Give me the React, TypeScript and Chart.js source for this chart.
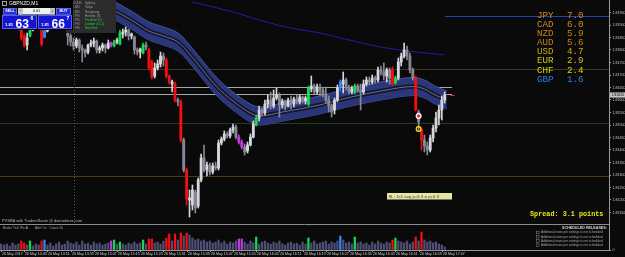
import React, { useEffect, useRef } from "react";
import { Chart, registerables } from "chart.js";

Chart.register(...registerables);

// ---------- data ----------
const SYMBOL = "GBPNZD";
const TIMEFRAME = "M1";
const LOT = "0.01";
const BID = 1.81636;
const ASK = 1.81667;
const SPREAD_POINTS = 3.1;

const TIME_LABELS = [
  "26 May 2017", "26 May 14:43", "26 May 14:51", "26 May 14:59", "26 May 15:07",
  "26 May 15:15", "26 May 15:23", "26 May 15:31", "26 May 15:39", "26 May 15:47",
  "26 May 15:55", "26 May 16:03", "26 May 16:11", "26 May 16:19", "26 May 16:27",
  "26 May 16:35", "26 May 16:43", "26 May 16:51", "26 May 16:59", "26 May 17:07",
];
const BARS_PER_LABEL = 8;

const OPEN = [
  1.81920, 1.81928, 1.81912, 1.81920, 1.81904, 1.81912, 1.81900, 1.81888, 1.81856, 1.81820,
  1.81856, 1.81880, 1.81896, 1.81912, 1.81888, 1.81852, 1.81876, 1.81896, 1.81912, 1.81928,
  1.81920, 1.81936, 1.81924, 1.81896, 1.81856, 1.81832, 1.81816, 1.81840, 1.81808, 1.81800,
  1.81792, 1.81820, 1.81828, 1.81836, 1.81800, 1.81808, 1.81820, 1.81808, 1.81828, 1.81816,
  1.81832, 1.81824, 1.81864, 1.81872, 1.81880, 1.81856, 1.81852, 1.81800, 1.81792, 1.81788,
  1.81820, 1.81800, 1.81752, 1.81696, 1.81728, 1.81744, 1.81776, 1.81760, 1.81696, 1.81664,
  1.81664, 1.81600, 1.81592, 1.81440, 1.81320, 1.81200, 1.81180, 1.81232, 1.81176, 1.81280,
  1.81368, 1.81320, 1.81340, 1.81312, 1.81336, 1.81328, 1.81428, 1.81444, 1.81464, 1.81456,
  1.81480, 1.81492, 1.81452, 1.81432, 1.81412, 1.81396, 1.81420, 1.81452, 1.81500, 1.81528,
  1.81560, 1.81548, 1.81584, 1.81600, 1.81576, 1.81608, 1.81620, 1.81580, 1.81596, 1.81576,
  1.81600, 1.81584, 1.81604, 1.81592, 1.81612, 1.81596, 1.81584, 1.81644, 1.81656, 1.81632,
  1.81652, 1.81640, 1.81624, 1.81600, 1.81576, 1.81560, 1.81600, 1.81648, 1.81664, 1.81680,
  1.81648, 1.81632, 1.81632, 1.81656, 1.81640, 1.81632, 1.81664, 1.81680, 1.81672, 1.81688,
  1.81680, 1.81720, 1.81712, 1.81696, 1.81720, 1.81720, 1.81668, 1.81688, 1.81752, 1.81776,
  1.81800, 1.81776, 1.81720, 1.81688, 1.81552, 1.81480, 1.81440, 1.81416, 1.81400, 1.81448,
  1.81488, 1.81528, 1.81560, 1.81600,
];
const HIGH = [
  1.81940, 1.81936, 1.81928, 1.81928, 1.81924, 1.81920, 1.81912, 1.81896, 1.81864, 1.81868,
  1.81892, 1.81904, 1.81920, 1.81928, 1.81896, 1.81888, 1.81904, 1.81920, 1.81936, 1.81940,
  1.81944, 1.81944, 1.81928, 1.81904, 1.81864, 1.81848, 1.81848, 1.81844, 1.81820, 1.81804,
  1.81824, 1.81840, 1.81848, 1.81840, 1.81816, 1.81828, 1.81824, 1.81840, 1.81832, 1.81840,
  1.81848, 1.81880, 1.81884, 1.81892, 1.81884, 1.81868, 1.81856, 1.81808, 1.81808, 1.81828,
  1.81832, 1.81808, 1.81760, 1.81748, 1.81760, 1.81792, 1.81788, 1.81768, 1.81700, 1.81680,
  1.81672, 1.81608, 1.81600, 1.81448, 1.81328, 1.81240, 1.81260, 1.81240, 1.81288, 1.81384,
  1.81420, 1.81352, 1.81348, 1.81348, 1.81352, 1.81440, 1.81452, 1.81476, 1.81472, 1.81488,
  1.81504, 1.81500, 1.81460, 1.81440, 1.81424, 1.81432, 1.81464, 1.81516, 1.81540, 1.81576,
  1.81568, 1.81600, 1.81620, 1.81632, 1.81640, 1.81648, 1.81628, 1.81604, 1.81600, 1.81608,
  1.81616, 1.81612, 1.81620, 1.81620, 1.81616, 1.81616, 1.81656, 1.81696, 1.81664, 1.81664,
  1.81664, 1.81652, 1.81652, 1.81616, 1.81584, 1.81608, 1.81660, 1.81680, 1.81712, 1.81688,
  1.81660, 1.81656, 1.81664, 1.81664, 1.81664, 1.81680, 1.81692, 1.81692, 1.81700, 1.81696,
  1.81732, 1.81736, 1.81748, 1.81728, 1.81728, 1.81732, 1.81696, 1.81768, 1.81788, 1.81828,
  1.81816, 1.81788, 1.81728, 1.81696, 1.81560, 1.81488, 1.81460, 1.81432, 1.81460, 1.81500,
  1.81552, 1.81580, 1.81616, 1.81632,
];
const LOW = [
  1.81912, 1.81904, 1.81900, 1.81896, 1.81896, 1.81892, 1.81880, 1.81840, 1.81812, 1.81800,
  1.81852, 1.81876, 1.81888, 1.81888, 1.81816, 1.81848, 1.81872, 1.81888, 1.81904, 1.81912,
  1.81912, 1.81912, 1.81896, 1.81820, 1.81816, 1.81800, 1.81808, 1.81792, 1.81752, 1.81772,
  1.81784, 1.81812, 1.81812, 1.81788, 1.81788, 1.81796, 1.81788, 1.81804, 1.81812, 1.81812,
  1.81824, 1.81820, 1.81848, 1.81856, 1.81840, 1.81844, 1.81784, 1.81780, 1.81768, 1.81784,
  1.81800, 1.81720, 1.81684, 1.81688, 1.81720, 1.81732, 1.81736, 1.81688, 1.81664, 1.81632,
  1.81592, 1.81576, 1.81432, 1.81312, 1.81180, 1.81132, 1.81160, 1.81148, 1.81168, 1.81272,
  1.81312, 1.81296, 1.81300, 1.81304, 1.81320, 1.81320, 1.81420, 1.81436, 1.81448, 1.81448,
  1.81468, 1.81444, 1.81424, 1.81404, 1.81380, 1.81388, 1.81416, 1.81448, 1.81496, 1.81516,
  1.81536, 1.81540, 1.81568, 1.81564, 1.81568, 1.81600, 1.81532, 1.81568, 1.81560, 1.81572,
  1.81564, 1.81572, 1.81584, 1.81584, 1.81588, 1.81584, 1.81576, 1.81632, 1.81624, 1.81624,
  1.81616, 1.81612, 1.81588, 1.81552, 1.81532, 1.81544, 1.81592, 1.81640, 1.81628, 1.81640,
  1.81624, 1.81624, 1.81624, 1.81632, 1.81560, 1.81624, 1.81656, 1.81660, 1.81664, 1.81668,
  1.81672, 1.81700, 1.81680, 1.81672, 1.81664, 1.81660, 1.81664, 1.81680, 1.81736, 1.81768,
  1.81760, 1.81708, 1.81680, 1.81556, 1.81480, 1.81400, 1.81392, 1.81380, 1.81392, 1.81432,
  1.81472, 1.81500, 1.81520, 1.81588,
];
const CLOSE = [
  1.81928, 1.81912, 1.81920, 1.81904, 1.81912, 1.81900, 1.81888, 1.81848, 1.81820, 1.81848,
  1.81880, 1.81896, 1.81912, 1.81896, 1.81824, 1.81876, 1.81896, 1.81912, 1.81928, 1.81920,
  1.81936, 1.81924, 1.81904, 1.81856, 1.81832, 1.81816, 1.81840, 1.81808, 1.81800, 1.81788,
  1.81820, 1.81828, 1.81836, 1.81800, 1.81808, 1.81820, 1.81808, 1.81828, 1.81820, 1.81832,
  1.81840, 1.81868, 1.81872, 1.81880, 1.81856, 1.81864, 1.81800, 1.81792, 1.81804, 1.81820,
  1.81812, 1.81728, 1.81692, 1.81728, 1.81744, 1.81776, 1.81760, 1.81696, 1.81672, 1.81672,
  1.81600, 1.81592, 1.81440, 1.81320, 1.81204, 1.81208, 1.81240, 1.81168, 1.81280, 1.81368,
  1.81320, 1.81340, 1.81312, 1.81336, 1.81328, 1.81428, 1.81444, 1.81464, 1.81456, 1.81480,
  1.81492, 1.81452, 1.81432, 1.81412, 1.81392, 1.81420, 1.81452, 1.81504, 1.81528, 1.81560,
  1.81548, 1.81584, 1.81600, 1.81576, 1.81608, 1.81620, 1.81580, 1.81596, 1.81576, 1.81600,
  1.81584, 1.81604, 1.81592, 1.81612, 1.81596, 1.81608, 1.81648, 1.81656, 1.81632, 1.81652,
  1.81640, 1.81624, 1.81600, 1.81576, 1.81552, 1.81600, 1.81648, 1.81672, 1.81680, 1.81648,
  1.81632, 1.81644, 1.81656, 1.81640, 1.81632, 1.81664, 1.81680, 1.81672, 1.81688, 1.81680,
  1.81720, 1.81712, 1.81696, 1.81720, 1.81688, 1.81664, 1.81688, 1.81752, 1.81776, 1.81800,
  1.81776, 1.81720, 1.81688, 1.81560, 1.81512, 1.81440, 1.81416, 1.81400, 1.81448, 1.81488,
  1.81528, 1.81560, 1.81600, 1.81620,
];
const VOLUME = [
  60, 50, 60, 40, 70, 50, 60, 90, 70, 50,
  90, 40, 60, 50, 90, 100, 50, 70, 40, 60,
  80, 50, 60, 90, 70, 60, 80, 50, 90, 60,
  70, 50, 80, 60, 70, 50, 60, 70, 90, 100,
  60, 80, 60, 50, 70, 60, 80, 60, 70, 100,
  60, 110, 110, 70, 80, 60, 90, 120, 160, 90,
  160, 100, 170, 140, 170, 150, 120, 100, 110, 90,
  100, 80, 90, 70, 80, 100, 70, 90, 60, 80,
  70, 90, 110, 110, 80, 60, 90, 70, 130, 60,
  80, 90, 70, 60, 80, 70, 90, 60, 50, 70,
  80, 60, 70, 50, 80, 60, 120, 70, 90, 60,
  70, 80, 90, 60, 80, 70, 90, 140, 100, 70,
  80, 60, 130, 70, 80, 60, 70, 50, 80, 60,
  90, 70, 60, 80, 70, 100, 120, 90, 80, 70,
  90, 60, 80, 130, 90, 180, 100, 80, 90, 70,
  80, 60, 50, 30,
];
// PVSRA bar classes (bar indexes)
const CLIMAX_RED = [7, 8, 14, 51, 52, 57, 58, 60, 62, 64, 135, 143, 145];
const CLIMAX_GREEN = [10, 39, 41, 49, 88, 106, 122, 136];
const RISING_BLUE = [15, 117];
const RISING_MAGENTA = [38, 82, 83];

// moving-average band (bar index, price)
const BAND_X = [33, 40, 46, 51, 56, 61, 65, 69, 74.5, 80, 86, 89.5, 97, 109, 120, 132, 142, 146, 149, 153.7];
const BAND_UPPER = [1.82028, 1.81988, 1.81948, 1.81912, 1.81892, 1.81868, 1.81820, 1.81764, 1.81688, 1.81632,
  1.81584, 1.81572, 1.81588, 1.81614, 1.81646, 1.81674, 1.81690, 1.81680, 1.81660, 1.81636];
const BAND_MID = [1.81992, 1.81952, 1.81912, 1.81876, 1.81856, 1.81832, 1.81784, 1.81728, 1.81652, 1.81596,
  1.81548, 1.81536, 1.81552, 1.81578, 1.81610, 1.81638, 1.81654, 1.81644, 1.81624, 1.81600];
const BAND_LOWER = [1.81956, 1.81916, 1.81876, 1.81840, 1.81820, 1.81796, 1.81748, 1.81692, 1.81616, 1.81560,
  1.81512, 1.81500, 1.81516, 1.81542, 1.81574, 1.81602, 1.81618, 1.81608, 1.81588, 1.81564];

// slow MA (bar index, price)
const MA_X = [66, 80, 89, 100, 110, 120, 131, 143, 153];
const MA_VALUES = [1.81992, 1.81952, 1.81920, 1.81888, 1.81868, 1.81840, 1.81812, 1.81792, 1.81780];

// horizontal levels
const LEVEL_PRICES = [1.81724, 1.81652, 1.81624, 1.81508, 1.81296];
const LEVEL_END_INDEX = [null, 155.5, 155.5, null, null];
const DAY_HIGH = 1.81936;
const DAY_HIGH_FROM_INDEX = 153;
const SEPARATOR_INDEX = 25;

// signal markers on bar 144
const SIGNAL_INDEX = 144;
const SIGNAL_PRICES = [1.81536, 1.81484];

const PRICE_MIN = 1.81104;
const PRICE_MAX = 1.82;
const PRICE_TICKS = [1.8195, 1.819, 1.8185, 1.818, 1.8175, 1.817, 1.8165, 1.816, 1.8155, 1.815,
  1.8145, 1.814, 1.8135, 1.813, 1.8125, 1.812, 1.8115];
const VOLUME_MAX = 260;
const X_MIN = -0.35;
const X_MAX = 209.65;

const CURRENCIES = ["JPY", "CAD", "NZD", "AUD", "USD", "EUR", "CHF", "GBP"];
const STRENGTH = [7.0, 6.0, 5.9, 5.6, 4.7, 2.9, 2.4, 1.6];

const SESSION_TIMES = ["12:00 AM", "2:00 AM", "3:00 AM", "4:00 PM", "7:00 PM", "8:00 PM", "1:00 PM"];
const SESSION_NAMES = ["Sydney", "Tokyo", "Hongkong", "Helsinki (3)", "Frankfurt (L)", "London (O+1)", "NewYork"];
const SESSION_OPEN = [false, false, false, false, true, true, true];

const SL_TEXT = "SL: 1x1 avg p+6.3 = p+6.3";
const PVSRA_TEXT = "PVSRA with TradersRoom @ donnaforex.com";
const VOL_HEADER = ["Broker Tick: Pls At", "Alert On", "Count: 20"];
const NEWS_TITLE = "SCHEDULED RELEASES:";
const NEWS_LINES = [
  "Additional news per settings is not scheduled",
  "Additional news per settings is not scheduled",
  "Additional news per settings is not scheduled",
  "Additional news per settings is not scheduled",
];

// ---------- styles ----------
const BG = "#0a0a0a";
const CUR_COLORS = ["#d58a1e", "#d58a1e", "#c98018", "#c98018", "#c2ae14", "#c8c818", "#dcdc00", "#2f7fe0"];
const LEVEL_COLORS = ["#3a3822", "#a8a8a8", "#a8a8a8", "#1f3d1f", "#4c3b16"];
const SANS = '"Liberation Sans", Arial, sans-serif';
const MONO = '"Liberation Mono", "DejaVu Sans Mono", monospace';

function txt(c: any, s: string, x: number, y: number, font: string, color: string, align = "left", base = "middle") {
  c.font = font;
  c.fillStyle = color;
  c.textAlign = align;
  c.textBaseline = base;
  c.fillText(s, x, y);
}

function candleColor(i: number) {
  if (CLIMAX_RED.includes(i)) return "#f01010";
  if (CLIMAX_GREEN.includes(i)) return "#18d850";
  if (RISING_BLUE.includes(i)) return "#2a8cff";
  if (RISING_MAGENTA.includes(i)) return "#c43ce0";
  return CLOSE[i] >= OPEN[i] ? "#d6d6de" : "#888894";
}
function volumeColor(i: number) {
  if (CLIMAX_RED.includes(i)) return "#f01010";
  if (CLIMAX_GREEN.includes(i)) return "#18d850";
  if (RISING_BLUE.includes(i)) return "#2a8cff";
  if (RISING_MAGENTA.includes(i)) return "#c43ce0";
  return "#4e4e76";
}

const overlayPlugin = {
  id: "mt4Overlay",
  beforeDraw(chart: any) {
    const c = chart.ctx;
    c.save();
    c.fillStyle = BG;
    c.fillRect(0, 0, chart.width, chart.height);
    c.restore();
  },
  beforeDatasetsDraw(chart: any) {
    const c = chart.ctx;
    const xs = chart.scales.x, ys = chart.scales.y, vs = chart.scales.v;
    const a = chart.chartArea;
    c.save();
    c.lineWidth = 1;
    LEVEL_PRICES.forEach((p, k) => {
      const py = Math.round(ys.getPixelForValue(p)) + 0.5;
      const xe = LEVEL_END_INDEX[k] === null ? a.right : xs.getPixelForValue(LEVEL_END_INDEX[k] as number);
      c.strokeStyle = LEVEL_COLORS[k];
      c.beginPath(); c.moveTo(a.left, py); c.lineTo(xe, py); c.stroke();
    });
    // period separator
    const sx = Math.round(xs.getPixelForValue(SEPARATOR_INDEX)) + 0.5;
    c.strokeStyle = "#5a5a5a";
    c.setLineDash([1, 2]);
    c.beginPath(); c.moveTo(sx, ys.top); c.lineTo(sx, ys.bottom); c.stroke();
    c.setLineDash([]);
    // day high line
    const hy = Math.round(ys.getPixelForValue(DAY_HIGH)) + 0.5;
    c.strokeStyle = "#2740b0";
    c.beginPath(); c.moveTo(xs.getPixelForValue(DAY_HIGH_FROM_INDEX), hy); c.lineTo(a.right, hy); c.stroke();
    // pane separator and bottom border
    c.strokeStyle = "#8c8c8c";
    const sy = Math.round(vs.top) + 0.5;
    c.beginPath(); c.moveTo(0, sy); c.lineTo(a.right, sy); c.stroke();
    const by = Math.round(vs.bottom) + 0.5;
    c.strokeStyle = "#9a9a9a";
    c.beginPath(); c.moveTo(0, by); c.lineTo(a.right, by); c.stroke();
    c.restore();
  },
  afterDatasetsDraw(chart: any) {
    const c = chart.ctx;
    const xs = chart.scales.x, ys = chart.scales.y, vs = chart.scales.v;
    const a = chart.chartArea;
    c.save();

    // current price tag on axis + bid dash
    const last = CLOSE[CLOSE.length - 1];
    const py = ys.getPixelForValue(last);
    c.fillStyle = "#c6c6c6";
    c.fillRect(a.right + 1, py - 2.6, 15, 5.2);
    txt(c, last.toFixed(5), a.right + 2.2, py + 0.2, `3.6px ${SANS}`, "#000000");
    c.strokeStyle = "#ff2020";
    c.lineWidth = 1;
    c.beginPath();
    c.moveTo(xs.getPixelForValue(CLOSE.length + 1), Math.round(py) + 0.5);
    c.lineTo(xs.getPixelForValue(CLOSE.length + 2.5), Math.round(py) + 0.5);
    c.stroke();

    // time labels
    c.strokeStyle = "#a0a0a0";
    TIME_LABELS.forEach((s, k) => {
      const px = Math.round(xs.getPixelForValue(k * BARS_PER_LABEL)) + 0.5;
      c.beginPath(); c.moveTo(px, vs.bottom); c.lineTo(px, vs.bottom + 2); c.stroke();
      txt(c, s, px + 0.5, vs.bottom + 4, `3.6px ${SANS}`, "#cfcfcf");
    });

    // session panel
    c.fillStyle = "#2b2b2b";
    c.fillRect(66, 0, 50, 33);
    SESSION_NAMES.forEach((n, k) => {
      const y = 3.5 + k * 4.1;
      txt(c, SESSION_TIMES[k], 68, y, `3.1px ${SANS}`, "#8a8a8a");
      txt(c, n, 85, y, `3.1px ${SANS}`, SESSION_OPEN[k] ? "#2ecc40" : "#9c9c9c");
    });

    // one-click trading panel
    c.fillStyle = "#000000";
    c.fillRect(0, 0, 73, 30);
    c.strokeStyle = "#d0d0d0"; c.lineWidth = 0.8;
    c.strokeRect(2.5, 1.5, 4, 4);
    txt(c, `${SYMBOL},${TIMEFRAME}`, 9, 4, `5px ${SANS}`, "#ffffff");
    const btn = (x: number, w: number, label: string) => {
      c.fillStyle = "#1e2ad8"; c.fillRect(x, 8, w, 6.5);
      c.strokeStyle = "#8090ff"; c.lineWidth = 0.6; c.strokeRect(x + 0.3, 8.3, w - 0.6, 5.9);
      txt(c, label, x + w / 2, 11.4, `bold 3.8px ${SANS}`, "#ffffff", "center");
    };
    btn(3, 14, "SELL");
    btn(56, 15, "BUY");
    c.fillStyle = "#f0f0f0"; c.fillRect(18, 8, 37, 6.5);
    c.fillStyle = "#c4c4c4"; c.fillRect(18, 8, 5, 6.5); c.fillRect(50, 8, 5, 6.5);
    txt(c, "−", 20.5, 11.3, `4px ${SANS}`, "#333", "center");
    txt(c, "+", 52.5, 11.3, `4px ${SANS}`, "#333", "center");
    txt(c, LOT, 36.5, 11.4, `3.8px ${SANS}`, "#111", "center");
    const priceBox = (x: number, w: number, p: number) => {
      const s = p.toFixed(5);
      c.fillStyle = "#1414d4"; c.fillRect(x, 15, w, 14);
      c.strokeStyle = "#6c7cff"; c.lineWidth = 0.7; c.strokeRect(x + 0.4, 15.4, w - 0.8, 13.2);
      txt(c, s.slice(0, 4), x + 3, 25.5, `bold 4.2px ${SANS}`, "#ffffff", "left", "alphabetic");
      txt(c, s.slice(4, 6), x + 13.5, 27.5, `bold 12px ${SANS}`, "#ffffff", "left", "alphabetic");
      txt(c, s.slice(6), x + 28.5, 19.5, `bold 5px ${SANS}`, "#ffffff", "left", "alphabetic");
    };
    priceBox(2, 35, BID);
    priceBox(38, 34, ASK);

    // currency strength list
    CURRENCIES.forEach((cur, k) => {
      const y = 15.5 + k * 9.1;
      txt(c, cur, 537, y, `9.2px ${MONO}`, CUR_COLORS[k]);
      txt(c, STRENGTH[k].toFixed(1), 567, y, `9.2px ${MONO}`, CUR_COLORS[k]);
    });

    // spread
    txt(c, `Spread: ${SPREAD_POINTS.toFixed(1)} points`, 530, 214.5, `bold 6.8px ${MONO}`, "#eaea10");

    // SL label
    c.fillStyle = "#e6e6a0";
    c.fillRect(387, 193, 65, 6.5);
    txt(c, SL_TEXT, 388.5, 196.4, `4.3px ${SANS}`, "#3a3a3a");

    // PVSRA text
    txt(c, PVSRA_TEXT, 2, 220.5, `3.9px ${SANS}`, "#b8b8b8");

    // volume header
    txt(c, VOL_HEADER[0], 3, 228, `3.1px ${SANS}`, "#a8a8a8");
    txt(c, VOL_HEADER[1], 35, 228, `3.1px ${SANS}`, "#a8a8a8");
    txt(c, VOL_HEADER[2], 49.5, 228, `3.1px ${SANS}`, "#a8a8a8");

    // scheduled releases
    txt(c, NEWS_TITLE, 607, 228.3, `bold 3.7px ${SANS}`, "#d8d8d8", "right");
    NEWS_LINES.forEach((s, k) => {
      const y = 232.5 + k * 4.2;
      c.strokeStyle = "#8a8a8a"; c.lineWidth = 0.5;
      c.strokeRect(536.5, y - 1.3, 2.6, 2.6);
      txt(c, s, 541, y, `3.1px ${SANS}`, "#a4a4a4", "left");
    });

    c.restore();
  },
};

export default function App() {
  const ref = useRef<HTMLCanvasElement>(null);

  useEffect(() => {
    document.body.style.margin = "0";
    document.body.style.background = BG;
    const canvas = ref.current as HTMLCanvasElement;
    const idx = OPEN.map((_, i) => i);
    const colors = idx.map(candleColor);

    const lineBase = {
      type: "line", pointRadius: 0, pointHoverRadius: 0, tension: 0.4, yAxisID: "y", xAxisID: "x",
    };

    const chart = new Chart(canvas, {
      type: "bar",
      data: {
        datasets: [
          {
            ...lineBase,
            data: BAND_X.map((x, k) => ({ x, y: BAND_UPPER[k] })),
            borderColor: "#4453a0",
            borderWidth: 1,
            backgroundColor: "rgba(44,55,126,0.97)",
            fill: "+1",
            order: 20,
          } as any,
          {
            ...lineBase,
            data: BAND_X.map((x, k) => ({ x, y: BAND_LOWER[k] })),
            borderColor: "#4453a0",
            borderWidth: 1,
            fill: false,
            order: 20,
          } as any,
          {
            ...lineBase,
            data: BAND_X.map((x, k) => ({ x, y: BAND_MID[k] })),
            borderColor: "#15172c",
            borderWidth: 4.5,
            fill: false,
            order: 19,
          } as any,
          {
            ...lineBase,
            data: BAND_X.map((x, k) => ({ x, y: BAND_MID[k] })),
            borderColor: "#6a7096",
            borderWidth: 1,
            fill: false,
            order: 18,
          } as any,
          {
            ...lineBase,
            data: MA_X.map((x, k) => ({ x, y: MA_VALUES[k] })),
            borderColor: "#1f1fa8",
            borderWidth: 1,
            fill: false,
            order: 17,
          } as any,
          {
            type: "bar",
            data: idx.map((i) => ({ x: i, y: VOLUME[i] })),
            backgroundColor: idx.map(volumeColor),
            barThickness: 1.6,
            grouped: false,
            yAxisID: "v",
            order: 16,
          } as any,
          {
            type: "bar",
            data: idx.map((i) => ({ x: i, y: [LOW[i], HIGH[i]] })),
            backgroundColor: colors,
            barThickness: 1,
            grouped: false,
            yAxisID: "y",
            order: 3,
          } as any,
          {
            type: "bar",
            data: idx.map((i) => ({ x: i, y: [OPEN[i], CLOSE[i]] })),
            backgroundColor: colors,
            barThickness: 2.2,
            grouped: false,
            yAxisID: "y",
            order: 2,
          } as any,
          {
            type: "line",
            data: SIGNAL_PRICES.map((p) => ({ x: SIGNAL_INDEX, y: p })),
            showLine: false,
            pointRadius: 2.4,
            pointHoverRadius: 0,
            pointBorderWidth: 1.2,
            pointBorderColor: ["#ffffff", "#ffe600"],
            pointBackgroundColor: ["#ff3030", "rgba(0,0,0,0)"],
            yAxisID: "y",
            order: 0,
          } as any,
        ],
      },
      options: {
        animation: false,
        responsive: false,
        maintainAspectRatio: false,
        devicePixelRatio: 1,
        events: [],
        layout: { autoPadding: false, padding: { left: 0, right: 0, top: 0, bottom: 7 } },
        plugins: { legend: { display: false }, tooltip: { enabled: false } },
        scales: {
          x: { type: "linear", min: X_MIN, max: X_MAX, offset: false, display: false },
          y: {
            type: "linear",
            position: "right",
            stack: "panes",
            stackWeight: 224,
            min: PRICE_MIN,
            max: PRICE_MAX,
            afterBuildTicks: (s: any) => { s.ticks = PRICE_TICKS.map((v) => ({ value: v })); },
            afterFit: (s: any) => { s.width = 16; s.paddingTop = 0; s.paddingBottom = 0; },
            ticks: {
              autoSkip: false,
              color: "#c8c8c8",
              padding: 1.5,
              font: { size: 3.6, family: SANS },
              callback: (v: any) => Number(v).toFixed(5),
            },
            grid: { drawOnChartArea: false, tickLength: 2, color: "#9a9a9a" },
            border: { color: "#9a9a9a" },
          },
          v: {
            type: "linear",
            position: "right",
            stack: "panes",
            stackWeight: 26,
            min: 0,
            max: VOLUME_MAX,
            afterBuildTicks: (s: any) => { s.ticks = [{ value: 0 }]; },
            afterFit: (s: any) => { s.width = 16; s.paddingTop = 0; s.paddingBottom = 0; },
            ticks: {
              autoSkip: false,
              color: "#c8c8c8",
              padding: 1.5,
              font: { size: 3.6, family: SANS },
              callback: () => "0",
            },
            grid: { drawOnChartArea: false, tickLength: 2, color: "#9a9a9a" },
            border: { color: "#9a9a9a" },
          },
        },
      } as any,
      plugins: [overlayPlugin as any],
    } as any);

    return () => chart.destroy();
  }, []);

  return (
    <div style={{ width: 625, height: 257 }}>
      <canvas ref={ref} width={625} height={257} style={{ display: "block", width: 625, height: 257 }} />
    </div>
  );
}
